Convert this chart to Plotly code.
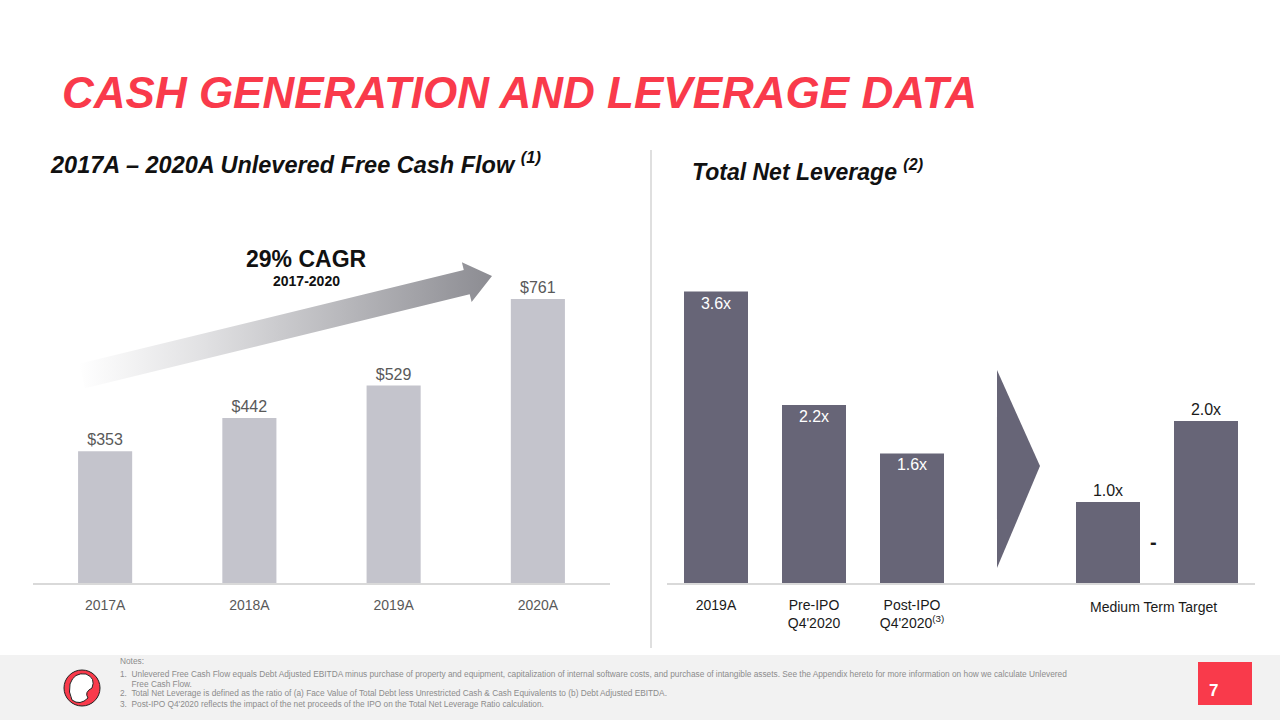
import numpy as np
import plotly.graph_objects as go

# ---------------- data ----------------
fcf_years = ["2017A", "2018A", "2019A", "2020A"]
fcf_values = [353, 442, 529, 761]

lev_positions = [0, 1, 2, 4, 5]
lev_values = [3.6, 2.2, 1.6, 1.0, 2.0]
lev_labels = ["3.6x", "2.2x", "1.6x", "1.0x", "2.0x"]
lev_textpos = ["inside", "inside", "inside", "outside", "outside"]
lev_tick_vals = [0, 1, 2]
lev_tick_text = ["2019A", "Pre-IPO<br>Q4'2020", "Post-IPO<br>Q4'2020<sup>(3)</sup>"]

notes = [
    "Notes:",
    "1.  Unlevered Free Cash Flow equals Debt Adjusted EBITDA minus purchase of property and equipment, capitalization of internal software costs, and purchase of intangible assets. See the Appendix hereto for more information on how we calculate Unlevered",
    "     Free Cash Flow.",
    "2.  Total Net Leverage is defined as the ratio of (a) Face Value of Total Debt less Unrestricted Cash & Cash Equivalents to (b) Debt Adjusted EBITDA.",
    "3.  Post-IPO Q4'2020 reflects the impact of the net proceeds of the IPO on the Total Net Leverage Ratio calculation.",
]

W, H = 1280, 720
RED = "#F93A4B"
LIGHT_BAR = "#C4C4CC"
DARK_BAR = "#676577"
FONT = "Liberation Sans, Arial, sans-serif"

def px(x):
    return x / W

def py(y):
    return 1 - y / H

fig = go.Figure()

# ---------------- growth arrow (pixel axis covering whole canvas) ----------------
S = np.array([82.0, 376.0])
T = np.array([492.0, 276.0])
u = (T - S) / np.linalg.norm(T - S)
n = np.array([-u[1], u[0]])
shaft_hw, head_hw, head_len = 12.5, 20.5, 26.0
Hb = T - head_len * u
pts = [S - shaft_hw * n, Hb - shaft_hw * n, Hb - head_hw * n, T,
       Hb + head_hw * n, Hb + shaft_hw * n, S + shaft_hw * n, S - shaft_hw * n]
ax_x = [p[0] for p in pts]
ax_y = [p[1] for p in pts]
fig.add_trace(go.Scatter(
    x=ax_x, y=ax_y, xaxis="x3", yaxis="y3", mode="lines",
    line=dict(width=0, color="rgba(0,0,0,0)"), fill="toself",
    fillgradient=dict(type="horizontal",
                      colorscale=[[0, "rgba(255,255,255,1)"], [0.3, "rgb(225,225,227)"],
                                  [1, "rgb(140,140,146)"]]),
    showlegend=False, hoverinfo="skip",
))

# ---------------- left chart ----------------
fig.add_trace(go.Bar(
    x=fcf_years, y=fcf_values, xaxis="x", yaxis="y",
    marker=dict(color=LIGHT_BAR, line=dict(width=0)),
    text=[f"${v}" for v in fcf_values], textposition="outside",
    textfont=dict(size=16, color="#595959", family=FONT),
    cliponaxis=False, showlegend=False, hoverinfo="skip",
))

# ---------------- right chart ----------------
fig.add_trace(go.Bar(
    x=lev_positions, y=lev_values, xaxis="x2", yaxis="y2", width=0.653,
    marker=dict(color=DARK_BAR, line=dict(width=0)),
    text=lev_labels, textposition=lev_textpos, insidetextanchor="end",
    insidetextfont=dict(size=16, color="white", family=FONT),
    outsidetextfont=dict(size=16, color="#1a1a1a", family=FONT),
    textangle=0, constraintext="none",
    cliponaxis=False, showlegend=False, hoverinfo="skip",
))

y_dom = [py(583), py(230)]
fig.update_layout(
    width=W, height=H, template="none",
    margin=dict(l=0, r=0, t=0, b=0),
    paper_bgcolor="white", plot_bgcolor="rgba(0,0,0,0)",
    font=dict(family=FONT),
    bargap=0.625,
    xaxis=dict(domain=[px(33), px(610)], showline=True, linecolor="#D9D9D9", linewidth=1.5,
               showgrid=False, zeroline=False, ticks="", ticklabelstandoff=8,
               tickfont=dict(size=14, color="#595959", family=FONT)),
    yaxis=dict(domain=y_dom, range=[0, 946], visible=False, showgrid=False),
    xaxis2=dict(domain=[px(667), px(1255)], range=[-0.5, 5.5], anchor="y2",
                tickvals=lev_tick_vals, ticktext=lev_tick_text,
                showline=True, linecolor="#D9D9D9", linewidth=1.5,
                showgrid=False, zeroline=False, ticks="", ticklabelstandoff=8,
                tickfont=dict(size=14, color="#1a1a1a", family=FONT)),
    yaxis2=dict(domain=y_dom, range=[0, 4.36], anchor="x2", visible=False, showgrid=False),
    xaxis3=dict(domain=[0, 1], range=[0, W], visible=False, anchor="y3", fixedrange=True),
    yaxis3=dict(domain=[0, 1], range=[H, 0], visible=False, anchor="x3", fixedrange=True),
)

shapes = [
    # separator
    dict(type="line", xref="paper", yref="paper", x0=px(651), x1=px(651), y0=py(150), y1=py(648),
         line=dict(color="#BFBFBF", width=1)),
    # chevron
    dict(type="path", xref="x2", yref="y2",
         path="M 2.867 2.63 L 3.306 1.444 L 2.867 0.185 Z",
         fillcolor=DARK_BAR, line=dict(width=0)),
    # footer band
    dict(type="rect", xref="paper", yref="paper", x0=0, x1=1, y0=0, y1=py(655),
         fillcolor="#F2F2F2", line=dict(width=0), layer="below"),
    # page number box
    dict(type="rect", xref="paper", yref="paper", x0=px(1198), x1=px(1252), y0=py(705), y1=py(662),
         fillcolor=RED, line=dict(width=0)),
    # logo
    dict(type="circle", xref="paper", yref="paper", x0=px(64), x1=px(100), y0=py(706), y1=py(670),
         fillcolor=RED, line=dict(color="#222222", width=1)),
    dict(type="path", xref="paper", yref="paper",
         path=f"M {px(70)} {py(684)} Q {px(74)} {py(672)} {px(86)} {py(674)} Q {px(96)} {py(678)} {px(92)} {py(688)} "
              f"Q {px(84)} {py(692)} {px(88)} {py(698)} Q {px(80)} {py(706)} {px(72)} {py(700)} Q {px(68)} {py(692)} {px(70)} {py(684)} Z",
         fillcolor="white", line=dict(color="#222222", width=1)),
]
fig.update_layout(shapes=shapes)

ann = []
def text(x, y, s, size, color, xanchor="left", yanchor="middle", family=FONT):
    ann.append(dict(x=px(x), y=py(y), xref="paper", yref="paper", text=s, showarrow=False,
                    xanchor=xanchor, yanchor=yanchor, font=dict(size=size, color=color, family=family)))

text(60, 92, "<b><i>CASH GENERATION AND LEVERAGE DATA</i></b>", 44, RED)
text(48, 163, "<b><i>2017A – 2020A Unlevered Free Cash Flow <sup>(1)</sup></i></b>", 23.5, "#111111")
text(690, 170, "<b><i>Total Net Leverage <sup>(2)</sup></i></b>", 23, "#111111")
text(306, 259, "<b>29% CAGR</b>", 23, "#111111", xanchor="center")
text(306, 281, "<b>2017-2020</b>", 14, "#111111", xanchor="center")
text(1153, 607, "Medium Term Target", 14, "#1a1a1a", xanchor="center")
text(1153, 542, "<b>-</b>", 20, "#1a1a1a", xanchor="center")
text(1207, 690, "<b>7</b>", 17, "white")

note_y = [661, 674, 684, 693, 704]
for s, yy in zip(notes, note_y):
    text(118, yy, s, 8.3, "#8C8C8C")

fig.update_layout(annotations=ann)

fig.write_html("out.html", config={"displayModeBar": False},
               post_script="document.body.style.margin='0';document.body.style.overflow='hidden';")
